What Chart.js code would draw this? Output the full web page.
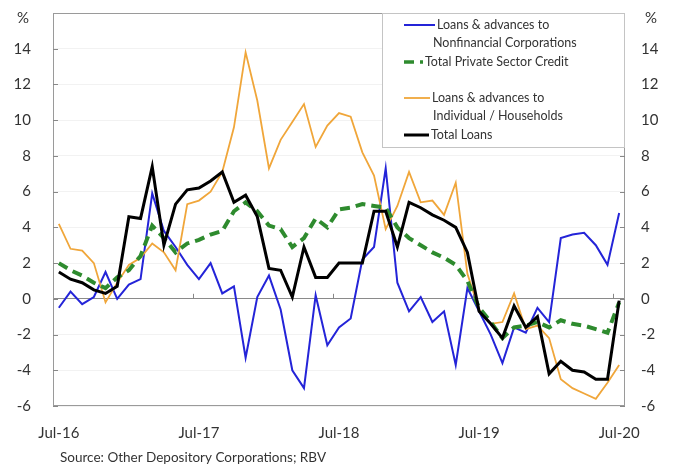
<!DOCTYPE html>
<html><head><meta charset="utf-8">
<script src="https://cdn.jsdelivr.net/npm/chart.js@4"></script>
<style>html,body{margin:0;padding:0;background:#fff}#wrap{width:674px;height:470px;position:relative}</style>
</head><body><div id="wrap"><canvas id="c"></canvas></div>
<script>
const months = ['Jul-16','Aug-16','Sep-16','Oct-16','Nov-16','Dec-16','Jan-17','Feb-17','Mar-17','Apr-17','May-17','Jun-17',
'Jul-17','Aug-17','Sep-17','Oct-17','Nov-17','Dec-17','Jan-18','Feb-18','Mar-18','Apr-18','May-18','Jun-18',
'Jul-18','Aug-18','Sep-18','Oct-18','Nov-18','Dec-18','Jan-19','Feb-19','Mar-19','Apr-19','May-19','Jun-19',
'Jul-19','Aug-19','Sep-19','Oct-19','Nov-19','Dec-19','Jan-20','Feb-20','Mar-20','Apr-20','May-20','Jun-20','Jul-20'];
const nonfinancial = [-0.5,0.4,-0.3,0.1,1.5,0.0,0.8,1.1,5.9,3.8, 2.9,1.9,1.1,2.0,0.3,0.7,-3.3,0.1,1.3,-0.6,
 -4.0,-5.0,0.2,-2.6,-1.6,-1.1,2.2,2.9,7.3,0.9, -0.7,0.1,-1.3,-0.7,-3.7,0.6,-0.7,-2.0,-3.6,-1.6, -1.9,-0.5,-1.3,3.4,3.6,3.7,3.0,1.9,4.8];
const privateCredit = [2.0,1.6,1.3,0.9,0.6,1.2,1.6,2.4,4.1,3.4, 2.6,3.1,3.3,3.6,3.8,4.9,5.4,4.9,4.1,3.9,
 2.9,3.4,4.5,4.0,5.0,5.1,5.3,5.2,5.1,4.0, 3.4,3.0,2.6,2.3,1.9,1.0,-0.5,-1.3,-2.2,-1.6, -1.5,-1.3,-1.6,-1.2,-1.4,-1.5,-1.7,-1.9,-0.2];
const households = [4.2,2.8,2.7,2.0,-0.2,0.9,1.9,2.3,3.1,2.6, 1.6,5.3,5.5,6.0,7.1,9.6,13.8,11.1,7.3,8.9,
 9.9,10.9,8.5,9.7,10.4,10.2,8.2,6.9,3.9,5.2, 7.1,5.4,5.5,4.7,6.5,1.4,-0.6,-1.4,-1.3,0.3, -1.7,-1.5,-2.2,-4.5,-5.0,-5.3,-5.6,-4.7,-3.7];
const totalLoans = [1.5,1.1,0.9,0.5,0.3,0.7,4.6,4.5,7.4,3.0, 5.3,6.1,6.2,6.6,7.1,5.4,5.8,4.6,1.7,1.6,
 0.1,2.9,1.2,1.2,2.0,2.0,2.0,4.9,4.9,2.9, 5.4,5.1,4.7,4.4,4.0,2.6,-0.7,-1.4,-2.2,-0.4, -1.6,-1.0,-4.2,-3.5,-4.0,-4.1,-4.5,-4.5,-0.1];
const yTicks = [-6,-4,-2,0,2,4,6,8,10,12,14];
const seriesNames = [['Loans & advances to','Nonfinancial Corporations'],['Total Private Sector Credit'],['Loans & advances to','Individual / Households'],['Total Loans']];
const unitLabel = '%';
const sourceNote = 'Source: Other Depository Corporations; RBV';

const FONT = 'Lato, "Open Sans", sans-serif';
const TXT = '#333';

const decor = {
  id: 'decor',
  afterDraw(chart) {
    const ctx = chart.ctx, a = chart.chartArea, ys = chart.scales.y, xs = chart.scales.x;
    ctx.save();
    ctx.strokeStyle = '#9a9a9a'; ctx.lineWidth = 1;
    ctx.strokeRect(a.left + 0.5, a.top + 0.5, a.right - a.left - 1, a.bottom - a.top - 1);
    ctx.strokeStyle = '#888';
    yTicks.forEach(v => {
      const py = Math.round(ys.getPixelForValue(v)) + 0.5;
      ctx.beginPath(); ctx.moveTo(a.left, py); ctx.lineTo(a.left + 5, py);
      ctx.moveTo(a.right - 5, py); ctx.lineTo(a.right, py); ctx.stroke();
    });
    const y0 = ys.getPixelForValue(0);
    const half = (xs.getPixelForValue(1) - xs.getPixelForValue(0)) / 2;
    months.forEach((m, i) => {
      if (i > 0 && m.startsWith('Jul')) {
        const px = Math.round(xs.getPixelForValue(i) - half) + 0.5;
        ctx.beginPath(); ctx.moveTo(px, y0); ctx.lineTo(px, y0 - 5); ctx.stroke();
      }
    });
    ctx.fillStyle = TXT; ctx.font = '15px ' + FONT; ctx.textBaseline = 'middle'; ctx.textAlign = 'center';
    ctx.fillText(unitLabel, 23, 18);
    ctx.fillText(unitLabel, 651, 18);
    ctx.textAlign = 'left'; ctx.font = '13.5px ' + FONT;
    ctx.fillText(sourceNote, 60, 458);
    const lx = 382, ly = a.top, lw = a.right - lx, lh = 134;
    ctx.fillStyle = '#fff'; ctx.fillRect(lx, ly, lw, lh);
    ctx.strokeStyle = '#c4c4c4'; ctx.strokeRect(lx + 0.5, ly + 0.5, lw - 1, lh);
    const rows = [[25, 43], [62], [98, 116], [135]];
    const tx = [[437, 433], [425], [432, 433], [431]];
    chart.data.datasets.forEach((ds, k) => {
      const yy = rows[k][0];
      ctx.strokeStyle = ds.borderColor; ctx.lineWidth = Math.min(ds.borderWidth, 3.5);
      ctx.setLineDash(ds.borderDash || []);
      ctx.beginPath(); ctx.moveTo(404, yy); ctx.lineTo(tx[k][0] - 2, yy); ctx.stroke();
      ctx.setLineDash([]);
      ctx.fillStyle = TXT; ctx.font = '12.5px ' + FONT; ctx.textAlign = 'left';
      seriesNames[k].forEach((t, j) => ctx.fillText(t, tx[k][j], rows[k][j]));
    });
    ctx.restore();
  }
};

new Chart(document.getElementById('c'), {
  type: 'line',
  data: {
    labels: months,
    datasets: [
      { label: seriesNames[0].join(' '), data: nonfinancial, borderColor: '#2424d8', borderWidth: 2, order: 4 },
      { label: seriesNames[1].join(' '), data: privateCredit, borderColor: '#2e8b2e', borderWidth: 4, borderDash: [10, 6], order: 2 },
      { label: seriesNames[2].join(' '), data: households, borderColor: '#f0a63a', borderWidth: 1.8, order: 3 },
      { label: seriesNames[3].join(' '), data: totalLoans, borderColor: '#000', borderWidth: 3, order: 1 }
    ]
  },
  options: {
    responsive: true, maintainAspectRatio: false, animation: false,
    layout: { padding: { top: 13, left: 0, right: 0, bottom: 0 } },
    elements: { point: { radius: 0 }, line: { tension: 0, borderJoinStyle: 'miter' } },
    plugins: { legend: { display: false }, tooltip: { enabled: false } },
    scales: {
      x: {
        type: 'category', offset: true,
        grid: { display: false, drawTicks: false }, border: { display: false },
        ticks: { autoSkip: false, maxRotation: 0, padding: 18, color: TXT, font: { family: FONT, size: 15 },
          callback: function(v, i) { const l = months[i]; return l.startsWith('Jul') ? l : ''; } },
        afterFit: s => { s.height = 64; }
      },
      y: {
        position: 'left', min: -6, max: 16,
        afterBuildTicks: s => { s.ticks = yTicks.map(v => ({ value: v })); },
        grid: { drawTicks: true, tickLength: 18, tickColor: 'rgba(0,0,0,0)', color: c => c.tick && c.tick.value === 0 ? '#8a8a8a' : 'rgba(0,0,0,0.05)', lineWidth: 1 },
        border: { display: false },
        ticks: { padding: 4, color: TXT, font: { family: FONT, size: 15 } },
        afterFit: s => { s.width = 53; }
      },
      y2: {
        position: 'right', min: -6, max: 16,
        afterBuildTicks: s => { s.ticks = yTicks.map(v => ({ value: v })); },
        grid: { display: true, drawOnChartArea: false, drawTicks: true, tickLength: 12, tickColor: 'rgba(0,0,0,0)' }, border: { display: false },
        ticks: { padding: 4, color: TXT, font: { family: FONT, size: 15 } },
        afterFit: s => { s.width = 49; }
      }
    }
  },
  plugins: [decor]
});
</script></body></html>
